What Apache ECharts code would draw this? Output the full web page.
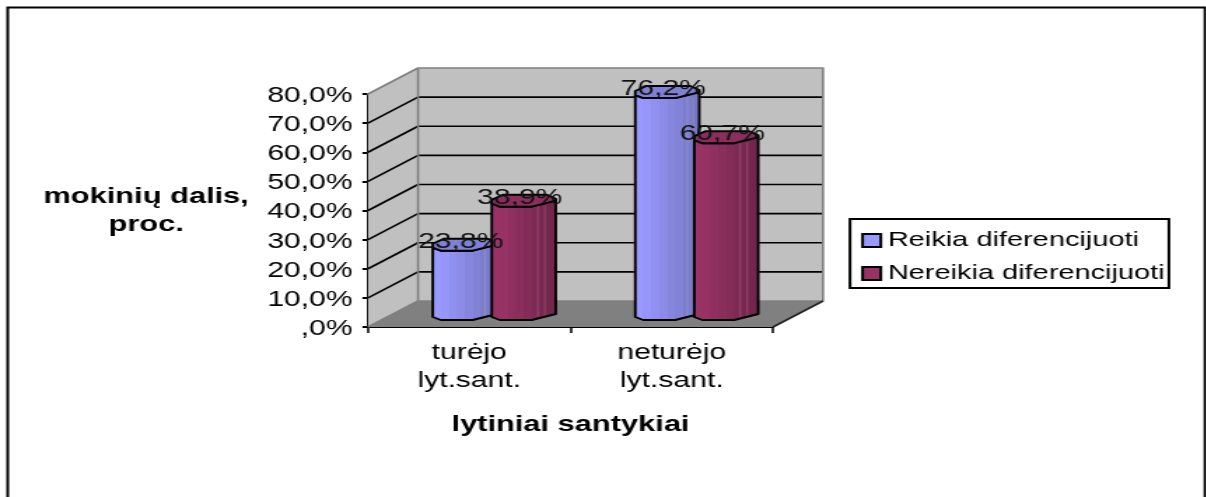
<!DOCTYPE html>
<html>
<head>
<meta charset="utf-8">
<style>
html,body{margin:0;padding:0;background:#fff;overflow:hidden;width:1206px;height:497px}
/* the reference picture is stretched horizontally, so the whole chart is too */
#main{width:862px;height:497px;transform:scaleX(1.4);transform-origin:0 0}
</style>
<script src="https://cdn.jsdelivr.net/npm/echarts@6/dist/echarts.min.js"></script>
</head>
<body>
<div id="main"></div>
<script>
const categories = ['turėjo\nlyt.sant.', 'neturėjo\nlyt.sant.'];
const seriesNames = ['Reikia diferencijuoti', 'Nereikia diferencijuoti'];
const reikia = [23.8, 76.2];
const nereikia = [38.9, 60.7];
const reikiaLabels = ['23,8%', '76,2%'];
const nereikiaLabels = ['38,9%', '60,7%'];
const yTickLabels = [',0%', '10,0%', '20,0%', '30,0%', '40,0%', '50,0%', '60,0%', '70,0%', '80,0%'];
const yTicks = [10, 20, 30, 40, 50, 60, 70];

const S = 1.4;                 // horizontal stretch of the picture
const DX = 50 / S, DY = -26;   // depth of the 3D box
const FONT = '"Liberation Sans", Arial, sans-serif';

function poly(points, fill, stroke, lw, z2) {
  return {type: 'polygon', z2: z2 || 0, shape: {points},
    style: {fill: fill || 'none', stroke: stroke || 'none', lineWidth: lw || 0, lineJoin: 'round'}};
}
function seg(x1, y1, x2, y2, stroke, lw, z2) {
  return {type: 'line', z2: z2 || 0, shape: {x1, y1, x2, y2}, style: {stroke, lineWidth: lw}};
}

function renderBox(params, api) {
  const c = params.coordSys, x0 = c.x, x1 = c.x + c.width, yT = c.y, yB = c.y + c.height;
  const kids = [
    poly([[x0, yB], [x0 + DX, yB + DY], [x0 + DX, yT + DY], [x0, yT]], '#C0C0C0'),
    poly([[x0 + DX, yB + DY], [x1 + DX, yB + DY], [x1 + DX, yT + DY], [x0 + DX, yT + DY]], '#C0C0C0'),
    poly([[x0, yB], [x1, yB], [x1 + DX, yB + DY], [x0 + DX, yB + DY]], '#808080')
  ];
  yTicks.forEach(v => {
    const y = api.coord([0, v])[1];
    kids.push(seg(x0, y, x0 + DX, y + DY, '#000', 1.6));
    kids.push(seg(x0 + DX, y + DY, x1 + DX, y + DY, '#000', 1.6));
  });
  kids.push(poly([[x0, yT], [x0 + DX, yT + DY], [x1 + DX, yT + DY], [x1 + DX, yB + DY], [x0 + DX, yB + DY], [x0 + DX, yT + DY]], null, '#808080', 1.6));
  kids.push(seg(x0 + DX, yB + DY, x0, yB, '#808080', 1.6));
  kids.push(seg(x1, yB, x1 + DX, yB + DY, '#222', 1.6));
  return {type: 'group', children: kids};
}

// outline of one octagonal column, relative to its centre (picture pixels)
const topFace = [[-32, -1], [-21, -6], [23, -6], [32, -2], [32, 0], [8, 6], [-24, 6], [-32, 3]];
const frontEdge = [[-32, 3], [-24, 6], [8, 6], [32, 0]];

function bands(colors) {
  const stops = [];
  colors.forEach((col, i) => {
    stops.push({offset: i / colors.length, color: col});
    stops.push({offset: (i + 1) / colors.length, color: col});
  });
  return {type: 'linear', x: 0, y: 0, x2: 1, y2: 0, colorStops: stops};
}

function columnRenderer(shift, layer, colors, topColor, seams, labels) {
  return function (params, api) {
    const i = api.value(0), v = api.value(1);
    const top = api.coord([i, v]), base = api.coord([i, 0]);
    const cx = top[0] + DX / 2 + shift / S;
    const yTop = top[1] + DY / 2, yBase = base[1] + DY / 2;
    const pt = (o, y) => [cx + o[0] / S, y + o[1]];
    const side = frontEdge.map(o => pt(o, yTop)).concat(frontEdge.slice().reverse().map(o => pt(o, yBase)));
    const kids = [poly(side, bands(colors), null, 0, layer)];
    seams.forEach(o => kids.push(seg(cx + o / S, yTop + 5, cx + o / S, yBase + 3, 'rgba(255,255,255,0.22)', 0.7, layer + 1)));
    kids.push(poly(side, null, '#000', 1.9, layer + 2));
    kids.push(poly(topFace.map(o => pt(o, yTop)), topColor, '#000', 1.9, layer + 3));
    kids.push({type: 'text', z2: 100, style: {
      text: labels[i], x: cx - 4 / S, y: yTop - 3,
      align: 'center', verticalAlign: 'middle',
      fontFamily: FONT, fontSize: 21.5, fill: '#111'}});
    return {type: 'group', children: kids};
  };
}

const chart = echarts.init(document.getElementById('main'), null, {width: 862, height: 497});
chart.setOption({
  animation: false,
  backgroundColor: '#fff',
  graphic: [{type: 'rect', silent: true, z: 0,
    shape: {x: 7.7 / S, y: 7.5, width: (1205 - 7.7) / S, height: 540},
    style: {fill: 'none', stroke: '#000', lineWidth: 2}}],
  grid: {left: 368 / S, top: 94, width: 405 / S, height: 233, containLabel: false},
  legend: {
    data: seriesNames, left: 850 / S, top: 219, orient: 'vertical',
    itemWidth: 13, itemHeight: 13, itemGap: 12, padding: [11, 3, 4, 8],
    borderColor: '#000', borderWidth: 2, backgroundColor: '#fff',
    icon: 'rect', selectedMode: false,
    textStyle: {fontFamily: FONT, fontSize: 20.7, color: '#000'}
  },
  xAxis: {
    type: 'category', data: categories,
    name: 'lytiniai santykiai', nameLocation: 'middle', nameGap: 87,
    nameTextStyle: {fontFamily: FONT, fontSize: 22, fontWeight: 'bold', color: '#000'},
    axisLine: {lineStyle: {color: '#000', width: 2}},
    axisTick: {show: true, alignWithLabel: false, length: 6, lineStyle: {color: '#000', width: 1.5}},
    axisLabel: {fontFamily: FONT, fontSize: 21.5, color: '#000', lineHeight: 28, margin: 12, interval: 0},
    splitLine: {show: false}
  },
  yAxis: {
    type: 'value', min: 0, max: 80, interval: 10,
    name: 'mokinių dalis,\nproc.', nameLocation: 'middle', nameRotate: 0, nameGap: 158.5,
    nameTextStyle: {fontFamily: FONT, fontSize: 22, fontWeight: 'bold', color: '#000', lineHeight: 28, align: 'center', verticalAlign: 'middle'},
    axisLine: {show: true, lineStyle: {color: '#000', width: 2}},
    axisTick: {show: true, length: 4, lineStyle: {color: '#000', width: 2}},
    axisLabel: {fontFamily: FONT, fontSize: 21.5, color: '#000', margin: 11, verticalAlign: 'top', lineHeight: 4,
      formatter: v => yTickLabels[Math.round(v / 10)]},
    splitLine: {show: false}
  },
  series: [
    {type: 'custom', name: 'box', silent: true, clip: false, z: 1,
     data: [[0, 0]], encode: {x: 0, y: 1}, renderItem: renderBox},
    {type: 'custom', name: seriesNames[0], clip: false, z: 2,
     itemStyle: {color: '#9999FF', borderColor: '#000', borderWidth: 1.8},
     data: reikia.map((v, i) => [i, v]), encode: {x: 0, y: 1},
     renderItem: columnRenderer(-29.5, 1,
       ['#9999FF', '#9696FA', '#9090F0', '#8C8CE8', '#8686DE', '#8282D6', '#7C7CCC', '#7777C4'],
       '#8080D4', [20, 26], reikiaLabels)},
    {type: 'custom', name: seriesNames[1], clip: false, z: 2,
     itemStyle: {color: '#993366', borderColor: '#000', borderWidth: 1.8},
     data: nereikia.map((v, i) => [i, v]), encode: {x: 0, y: 1},
     renderItem: columnRenderer(29.5, 10,
       ['#993366', '#963264', '#903060', '#8A2E5C', '#842C58', '#7E2A54', '#782850', '#72264C'],
       '#8A2E5C', [14, 21], nereikiaLabels)}
  ]
});
</script>
</body>
</html>
